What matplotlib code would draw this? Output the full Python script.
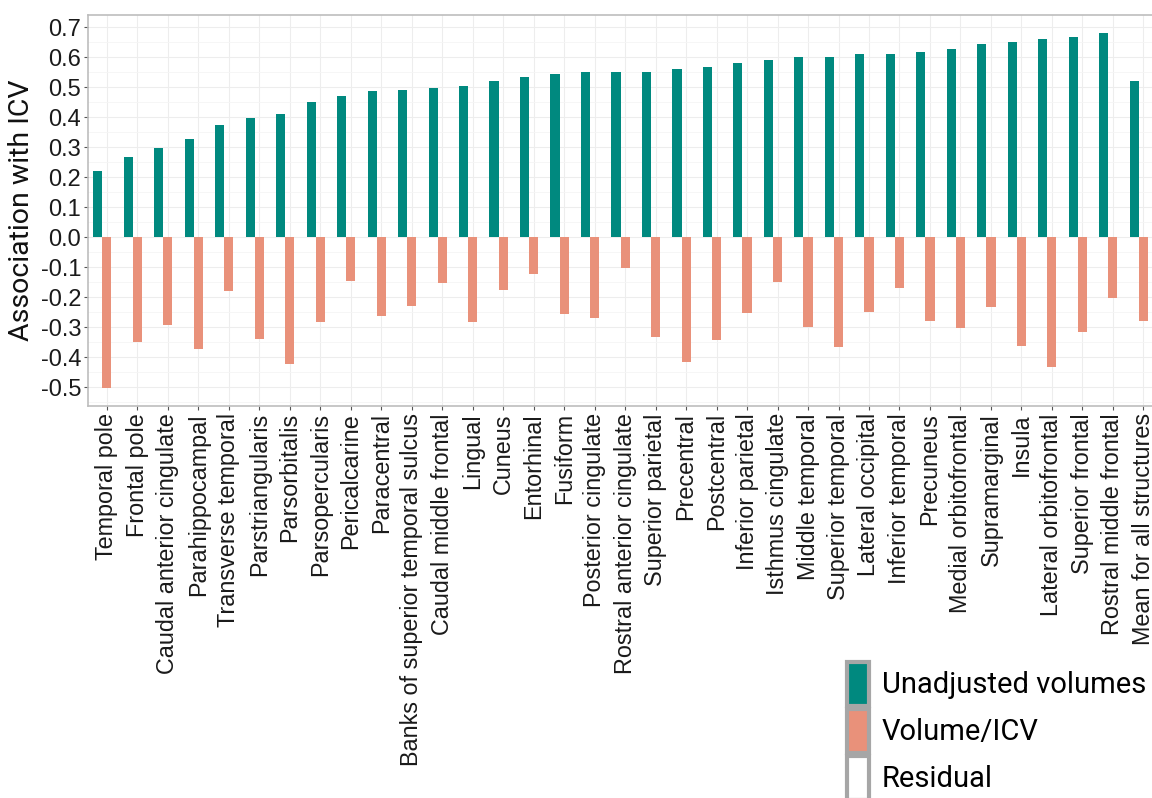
import numpy as np
import matplotlib
matplotlib.use("Agg")
import matplotlib.pyplot as plt
from matplotlib.patches import Patch
from matplotlib.ticker import MultipleLocator

# Regions, sorted by association of the unadjusted volume with ICV
regions = [
    "Temporal pole", "Frontal pole", "Caudal anterior cingulate", "Parahippocampal",
    "Transverse temporal", "Parstriangularis", "Parsorbitalis", "Parsopercularis",
    "Pericalcarine", "Paracentral", "Banks of superior temporal sulcus",
    "Caudal middle frontal", "Lingual", "Cuneus", "Entorhinal", "Fusiform",
    "Posterior cingulate", "Rostral anterior cingulate", "Superior parietal",
    "Precentral", "Postcentral", "Inferior parietal", "Isthmus cingulate",
    "Middle temporal", "Superior temporal", "Lateral occipital", "Inferior temporal",
    "Precuneus", "Medial orbitofrontal", "Supramarginal", "Insula",
    "Lateral orbitofrontal", "Superior frontal", "Rostral middle frontal",
    "Mean for all structures",
]
unadjusted = [
    0.220, 0.266, 0.299, 0.326, 0.373, 0.396, 0.409, 0.451, 0.471, 0.486, 0.491,
    0.496, 0.504, 0.519, 0.534, 0.543, 0.550, 0.550, 0.552, 0.560, 0.568, 0.581,
    0.590, 0.601, 0.601, 0.612, 0.612, 0.618, 0.626, 0.644, 0.650, 0.659, 0.668,
    0.679, 0.521,
]
volume_icv = [
    -0.504, -0.349, -0.293, -0.374, -0.179, -0.338, -0.421, -0.281, -0.147, -0.262,
    -0.230, -0.151, -0.282, -0.177, -0.123, -0.257, -0.269, -0.102, -0.334, -0.416,
    -0.341, -0.252, -0.150, -0.298, -0.366, -0.248, -0.169, -0.279, -0.302, -0.232,
    -0.361, -0.434, -0.316, -0.202, -0.278,
]
residual = [0.0] * len(regions)
yticks = [-0.5, -0.4, -0.3, -0.2, -0.1, 0.0, 0.1, 0.2, 0.3, 0.4, 0.5, 0.6, 0.7]

TEAL = "#00897f"
SALMON = "#e9917a"
EDGE = "#a6a6a6"
LABEL_FONT = "Roboto"

fig = plt.figure(figsize=(11.52, 7.98), dpi=100)
ax = fig.add_axes([0.0764, 0.491, 0.928, 0.490])

x = np.arange(len(regions))
w = 0.3
ax.bar(x - w, unadjusted, width=w, color=TEAL, zorder=3)
ax.bar(x, volume_icv, width=w, color=SALMON, zorder=3)
ax.bar(x + w, residual, width=w, color="white", zorder=3)

ax.set_xlim(-0.62, 34.45)
ax.set_ylim(-0.563, 0.74)
ax.yaxis.set_minor_locator(MultipleLocator(0.05))
ax.set_yticks(yticks)
ax.set_yticklabels([f"{v:.1f}" for v in yticks], fontsize=17,
                   family="Liberation Sans", color="#1a1a1a")
ax.set_xticks(x)
ax.set_xticklabels(regions, rotation=90, fontsize=16.8,
                   family="Liberation Sans", color="#1a1a1a")

ax.grid(which="major", color="#ededed", linewidth=0.8, zorder=0)
ax.grid(which="minor", axis="y", color="#f5f5f5", linewidth=0.6, zorder=0)
ax.tick_params(axis="both", which="major", length=3, color="#555555", width=0.8, pad=2)
ax.tick_params(axis="y", which="minor", length=0)
for s in ax.spines.values():
    s.set_color("#bdbdbd")
    s.set_linewidth(1.2)

ax.set_ylabel("Association with ICV", fontsize=20.5, family=LABEL_FONT,
              color="#111111", labelpad=4)

handles = [
    Patch(facecolor=TEAL, edgecolor=EDGE, linewidth=3),
    Patch(facecolor=SALMON, edgecolor=EDGE, linewidth=3),
    Patch(facecolor="white", edgecolor=EDGE, linewidth=3),
]
fig.legend(handles, ["Unadjusted volumes", "Volume/ICV", "Residual"],
           loc="upper left", bbox_to_anchor=(847 / 1152, 1 - 662 / 798),
           frameon=False, prop={"family": LABEL_FONT, "size": 21},
           handlelength=0.75, handleheight=1.95, labelspacing=0.1,
           handletextpad=0.45, borderpad=0, borderaxespad=0)

fig.savefig("out.png", dpi=100)
